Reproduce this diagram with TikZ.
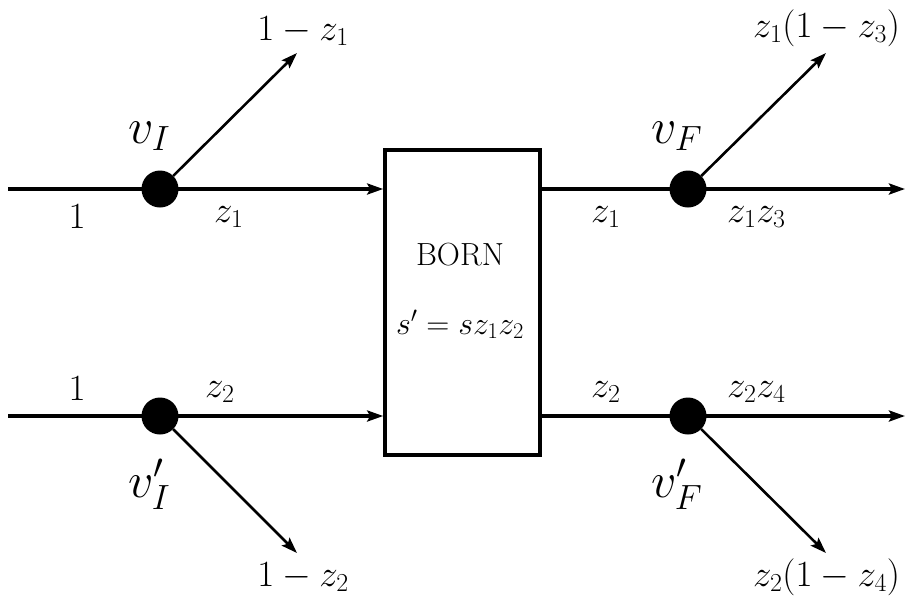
\RequirePackage{fix-cm}
\documentclass[tikz,border=0pt]{standalone}
\usetikzlibrary{arrows.meta}
\begin{document}
\begin{tikzpicture}[x=1pt,y=-1pt,
  dot/.style={circle,fill=black,inner sep=0pt,minimum size=37pt},
  mainline/.style={line width=3.6pt},
  branch/.style={line width=2.6pt},
  tip/.style={-{Stealth[length=16pt,width=11pt,inset=3pt]}},
  lab/.style={inner sep=0pt,font=\fontsize{37}{40}\selectfont},
  vlab/.style={inner sep=0pt,font=\fontsize{50}{54}\selectfont},
  boxtxt/.style={inner sep=0pt,font=\fontsize{32}{36}\selectfont}]
\useasboundingbox (0,0) rectangle (905,598);
\clip (0,0) rectangle (905,598);
% nodes
\coordinate (inA) at (8,189);
\coordinate (inB) at (8,416);
\node[dot] (vI) at (160,189) {};
\node[dot] (vIp) at (160,416) {};
\node[draw,line width=3.6pt,minimum width=155pt,minimum height=305pt,inner sep=0pt] (born) at (462.5,302.5) {};
\node[dot] (vF) at (688,189) {};
\node[dot] (vFp) at (688,416) {};
\coordinate (outA) at (905,189);
\coordinate (outB) at (905,416);
\coordinate (upI) at (297,53);
\coordinate (dnI) at (297,553);
\coordinate (upF) at (826,53);
\coordinate (dnF) at (826,553);
% connectors
\draw[mainline] (inA) -- (vI.center);
\draw[mainline,tip] (vI.center) -- (born.west |- vI);
\draw[mainline] (inB) -- (vIp.center);
\draw[mainline,tip] (vIp.center) -- (born.west |- vIp);
\draw[mainline] (born.east |- vF) -- (vF.center);
\draw[mainline,tip] (vF.center) -- (outA);
\draw[mainline] (born.east |- vFp) -- (vFp.center);
\draw[mainline,tip] (vFp.center) -- (outB);
\draw[branch,tip] (vI) -- (upI);
\draw[branch,tip] (vIp) -- (dnI);
\draw[branch,tip] (vF) -- (upF);
\draw[branch,tip] (vFp) -- (dnF);
% labels
\node[lab,anchor=base] (l1) at (303,40) {$1-z_1$};
\node[vlab,anchor=base west] (lvI) at (128,143) {$v_I$};
\node[lab,anchor=base] (l2) at (77,228) {$1$};
\node[lab,anchor=base west] (l3) at (214,222) {$z_1$};
\node[lab,anchor=base west] (l4) at (591,222) {$z_1$};
\node[lab,anchor=base west] (l5) at (727,222) {$z_1z_3$};
\node[vlab,anchor=base west] (lvF) at (651,143) {$v_F$};
\node[lab,anchor=base west] (l6) at (753,37) {$z_1(1-z_3)$};
\node[boxtxt,anchor=base] (l7) at (460,265) {BORN};
\node[boxtxt,anchor=base] (l8) at (460,334) {$s'=sz_1z_2$};
\node[lab,anchor=base] (l9) at (77,400) {$1$};
\node[lab,anchor=base west] (l10) at (205,397) {$z_2$};
\node[lab,anchor=base west] (l11) at (591,397) {$z_2$};
\node[lab,anchor=base west] (l12) at (727,397) {$z_2z_4$};
\node[vlab,anchor=base west] (lvIp) at (128,497) {$v'_I$};
\node[vlab,anchor=base west] (lvFp) at (651,497) {$v'_F$};
\node[lab,anchor=base] (l13) at (303,586) {$1-z_2$};
\node[lab,anchor=base west] (l14) at (753,586) {$z_2(1-z_4)$};
\end{tikzpicture}
\end{document}
